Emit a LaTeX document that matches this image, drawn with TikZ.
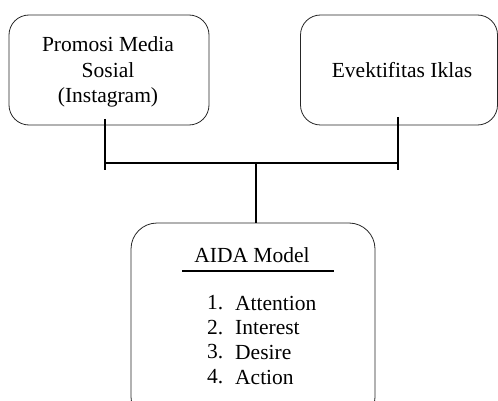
\documentclass[tikz,border=0pt]{standalone}
\usepackage{fontspec}
\setmainfont{Liberation Serif}
\begin{document}
\begin{tikzpicture}[x=1pt,y=-1pt,
    box/.style={draw=black!85, line width=0.8pt, rounded corners=20pt},
    link/.style={line width=1.6pt},
    txt/.style={font=\fontsize{21.5}{25.5}\selectfont, align=center, inner sep=0pt}]
      \useasboundingbox (0,0) rectangle (498,401);
      \draw
        (109,70) node[box, minimum width=200, minimum height=110] (promosi){}
        (399,70) node[box, minimum width=197, minimum height=110] (iklan){}
        (253,323) node[box, minimum width=244, minimum height=200, rounded corners=26pt] (aida){};
      \draw
        (108,72) node[txt] (promositxt){Promosi Media\\Sosial\\(Instagram)}
        (402,70) node[txt] (iklantxt){Evektifitas Iklas}
        (252,255) node[txt] (judul){AIDA Model};
      \draw
        (207,303) node[txt, anchor=west] (n1){1.}
        (207,328) node[txt, anchor=west] (n2){2.}
        (207,352) node[txt, anchor=west] (n3){3.}
        (207,377) node[txt, anchor=west] (n4){4.}
        (235,303) node[txt, anchor=west] (attention){Attention}
        (235,328) node[txt, anchor=west] (interest){Interest}
        (235,352) node[txt, anchor=west] (desire){Desire}
        (235,377) node[txt, anchor=west] (action){Action};
      \coordinate (garisA) at (182,271);
      \coordinate (garisB) at (334,271);
      \draw[line width=1.2pt] (garisA) to (garisB);
      \coordinate (kiriatas) at (105,119);
      \coordinate (kiribawah) at (105,170);
      \coordinate (kirisambung) at (105,163);
      \coordinate (kananatas) at (398,117);
      \coordinate (kananbawah) at (398,170);
      \coordinate (kanansambung) at (398,163);
      \coordinate (tengah) at (256,163);
      \begin{scope}[link]
        \draw (kiriatas) to (kiribawah);
        \draw (kananatas) to (kananbawah);
        \draw (kirisambung) to (kanansambung);
        \draw (tengah) to (tengah |- aida.north);
      \end{scope}
    \end{tikzpicture}
\end{document}
